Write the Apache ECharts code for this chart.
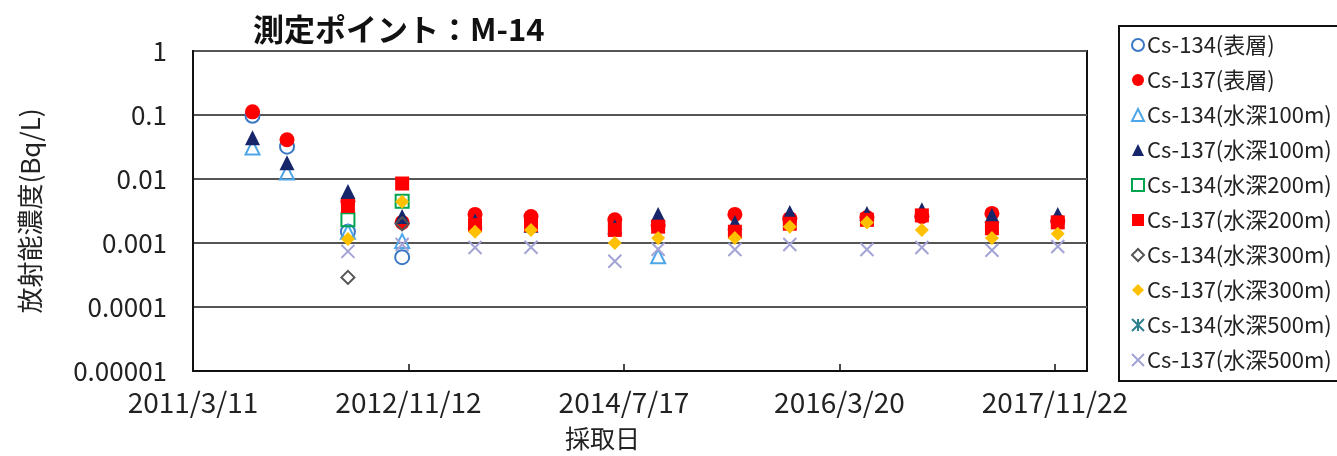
<!DOCTYPE html>
<html>
<head>
<meta charset="utf-8">
<script src="https://cdn.jsdelivr.net/npm/echarts@6/dist/echarts.min.js"></script>
<style>
  html, body { margin: 0; padding: 0; background: #fff; }
  #chart { width: 1337px; height: 456px; }
</style>
</head>
<body>
<div id="chart"></div>
<script>
// 採取日
const sampleDates = [
  '2011/8/27', '2011/12/3', '2012/5/24', '2012/10/25', '2013/5/20', '2013/10/26', '2014/6/21',
  '2014/10/22', '2015/5/28', '2015/10/31', '2016/6/6', '2016/11/9', '2017/5/27', '2017/11/30'
]

// 各系列の値 (Bq/L)、null は検出なし
const cs134Surface = [0.097, 0.032, 0.0015, 0.0006, null, null, null, null, null, null, null, null, null, null]
const cs137Surface = [0.112, 0.041, 0.0045, 0.0021, 0.0028, 0.0026, 0.0023, 0.0019, 0.0028, 0.0024, 0.0025, 0.0026, 0.0029, 0.0022]
const cs134d100 = [0.031, 0.0126, 0.0015, 0.00107, null, null, null, 0.00062, null, null, null, null, null, null]
const cs137d100 = [0.044, 0.018, 0.0064, 0.0026, 0.0022, 0.0019, 0.0018, 0.0028, 0.0021, 0.003, 0.0029, 0.0033, 0.0027, 0.0028]
const cs134d200 = [null, null, 0.0023, 0.0045, null, null, null, null, null, null, null, null, null, null]
const cs137d200 = [null, null, 0.0038, 0.0085, 0.0019, 0.0019, 0.0016, 0.0018, 0.0015, 0.002, 0.0023, 0.0027, 0.0017, 0.0021]
const cs134d300 = [null, null, 0.00029, 0.002, null, null, null, null, null, null, null, null, null, null]
const cs137d300 = [null, null, 0.00115, 0.0044, 0.0015, 0.0016, 0.001, 0.0012, 0.0012, 0.0018, 0.0021, 0.0016, 0.0012, 0.0014]
const cs134d500 = [null, null, null, null, null, null, null, null, null, null, null, null, null, null]
const cs137d500 = [null, null, 0.00074, 0.00095, 0.00085, 0.00086, 0.00052, 0.0008, 0.00079, 0.00095, 0.00079, 0.00085, 0.00077, 0.00088]

const xStart = '2011/3/11'
const xEnd = '2018/2/21'
const xStepDays = 612
const xTickLabels = ['2011/3/11', '2012/11/12', '2014/7/17', '2016/3/20', '2017/11/22']
const yTickLabels = ['0.00001', '0.0001', '0.001', '0.01', '0.1', '1']

const FONT = '"Noto Sans CJK JP", sans-serif'
const CROSS = 'path://M0,0L10,10M10,0L0,10'
const ASTER = 'path://M0,0L10,10M10,0L0,10M5,0L5,10'

// 日付 -> 2011/3/11 からの日数
const toDays = (s) => {
  const [y, m, d] = s.split('/').map(Number)
  const [y0, m0, d0] = xStart.split('/').map(Number)
  return Math.round((Date.UTC(y, m - 1, d) - Date.UTC(y0, m0 - 1, d0)) / 86400000)
}

const makeData = (vals) => sampleDates.map((d, i) => [toDays(d), vals[i]]).filter(p => p[1] != null)

const seriesDefs = [
  { name: 'Cs-134(表層)', vals: cs134Surface, symbol: 'circle', size: 14, color: 'rgba(255,255,255,0)', border: '#3a78c3' },
  { name: 'Cs-137(表層)', vals: cs137Surface, symbol: 'circle', size: 15, color: '#ff0000' },
  { name: 'Cs-134(水深100m)', vals: cs134d100, symbol: 'triangle', size: 14, color: 'rgba(255,255,255,0)', border: '#4da6e8' },
  { name: 'Cs-137(水深100m)', vals: cs137d100, symbol: 'triangle', size: 15, color: '#17256b' },
  { name: 'Cs-134(水深200m)', vals: cs134d200, symbol: 'rect', size: 13, color: 'rgba(255,255,255,0)', border: '#00a54f' },
  { name: 'Cs-137(水深200m)', vals: cs137d200, symbol: 'rect', size: 14, color: '#ff0000' },
  { name: 'Cs-134(水深300m)', vals: cs134d300, symbol: 'diamond', size: 13, color: 'rgba(255,255,255,0)', border: '#555555' },
  { name: 'Cs-137(水深300m)', vals: cs137d300, symbol: 'diamond', size: 14, color: '#ffc000' },
  { name: 'Cs-134(水深500m)', vals: cs134d500, symbol: ASTER, size: 12, color: 'rgba(255,255,255,0)', border: '#2f7f8f' },
  { name: 'Cs-137(水深500m)', vals: cs137d500, symbol: CROSS, size: 13, color: 'rgba(255,255,255,0)', border: '#a3a3d6' }
]

const chart = echarts.init(document.getElementById('chart'))

chart.setOption({
  backgroundColor: '#fff',
  animation: false,
  textStyle: { fontFamily: FONT },
  title: {
    text: '測定ポイント：M-14',
    left: 248,
    top: 9,
    textStyle: { fontSize: 31, fontWeight: 'bold', color: '#111', fontFamily: FONT }
  },
  legend: {
    orient: 'vertical',
    left: 1119,
    top: 26,
    padding: [8, 8, 10, 12],
    itemGap: 13,
    itemWidth: 12,
    itemHeight: 12,
    borderColor: '#111',
    borderWidth: 2,
    textStyle: { fontSize: 22, color: '#222', fontFamily: FONT, padding: [0, 0, 0, -2] },
    data: seriesDefs.map(s => s.name)
  },
  grid: {
    left: 193, top: 51, right: 250, bottom: 84,
    show: true, borderColor: '#111', borderWidth: 2
  },
  xAxis: {
    type: 'value',
    min: 0,
    max: toDays(xEnd),
    interval: xStepDays,
    name: '採取日',
    nameLocation: 'middle',
    nameGap: 55,
    nameTextStyle: { fontSize: 25, color: '#222', padding: [0, 75, 0, 0] },
    axisLine: { lineStyle: { color: '#111', width: 2 } },
    axisTick: { inside: true, length: 7, lineStyle: { color: '#111', width: 1.5 } },
    axisLabel: {
      fontSize: 28, color: '#222', margin: 17, showMaxLabel: false,
      formatter: (v) => xTickLabels[Math.round(v / xStepDays)] || ''
    },
    splitLine: { show: false }
  },
  yAxis: {
    type: 'log',
    logBase: 10,
    min: 0.00001,
    max: 1,
    name: '放射能濃度(Bq/L)',
    nameLocation: 'middle',
    nameGap: 150,
    nameTextStyle: { fontSize: 26, color: '#222' },
    axisLine: { show: true, lineStyle: { color: '#111', width: 2 } },
    axisTick: { show: false },
    axisLabel: {
      fontSize: 26, color: '#222', margin: 26,
      formatter: (v) => yTickLabels[Math.round(Math.log10(v)) + 5] || ''
    },
    splitLine: { show: true, lineStyle: { color: '#555', width: 2 } }
  },
  series: seriesDefs.map(s => ({
    name: s.name,
    type: 'scatter',
    symbol: s.symbol,
    symbolSize: s.size,
    data: makeData(s.vals),
    itemStyle: s.border
      ? { color: s.color, borderColor: s.border, borderWidth: 2, opacity: 1 }
      : { color: s.color, opacity: 1 }
  }))
})
</script>
</body>
</html>
